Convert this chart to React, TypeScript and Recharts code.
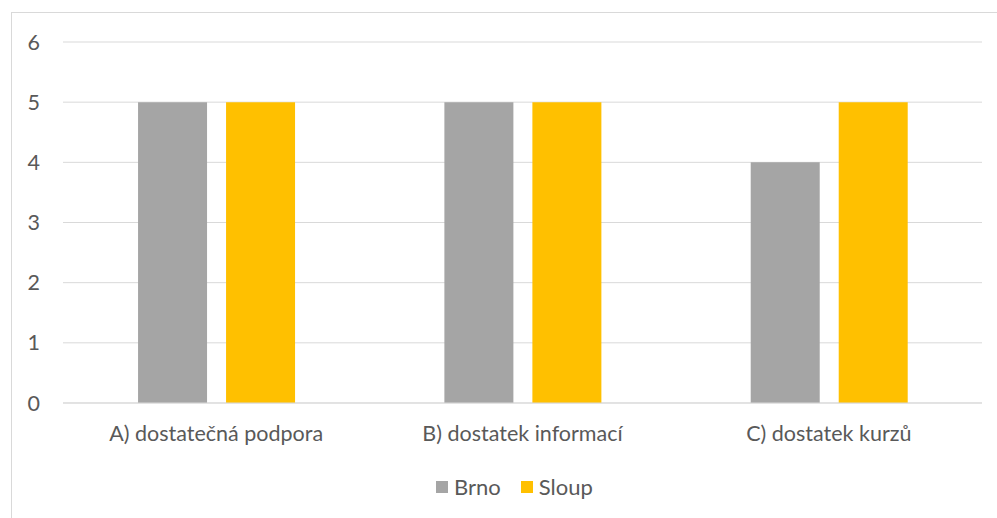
import React from 'react';
import { BarChart, Bar, XAxis, YAxis, CartesianGrid, Legend } from 'recharts';

const categories = ['A) dostatečná podpora', 'B) dostatek informací', 'C) dostatek kurzů'];
const brno = [5, 5, 4];
const sloup = [5, 5, 5];
const yTicks = [0, 1, 2, 3, 4, 5, 6];

const series = [
  { key: 'Brno', color: '#a5a5a5' },
  { key: 'Sloup', color: '#ffc000' },
];

const data = categories.map((name, i) => ({ name, Brno: brno[i], Sloup: sloup[i] }));

const font = 'Lato, "Open Sans", sans-serif';

const renderLegend = (props: any) => (
  <div style={{ display: 'flex', justifyContent: 'center', alignItems: 'center', gap: 20 }}>
    {(props.payload || []).map((p: any) => (
      <div key={p.value} style={{ display: 'flex', alignItems: 'center', gap: 6 }}>
        <span style={{ display: 'inline-block', width: 12, height: 12, background: p.color }} />
        <span style={{ color: '#595959', fontSize: 22, fontFamily: font }}>{p.value}</span>
      </div>
    ))}
  </div>
);

export default function App() {
  return (
    <div style={{ position: 'absolute', left: 0, top: 0, width: 997, height: 518, background: '#fff', overflow: 'hidden', fontFamily: font }}>
      <div style={{ position: 'absolute', left: 11, top: 12, width: 1000, height: 520, border: '1px solid #d9d9d9' }} />
      <div style={{ position: 'absolute', left: 0, top: 0 }}>
        <BarChart
          width={997}
          height={518}
          data={data}
          margin={{ top: 42, right: 15, left: 0, bottom: 57 }}
          barGap={19}
          barCategoryGap="24.5%"
        >
          <CartesianGrid vertical={false} stroke="#d9d9d9" strokeWidth={1} />
          <XAxis
            dataKey="name"
            height={30}
            axisLine={{ stroke: '#d9d9d9' }}
            tickLine={false}
            tickMargin={17}
            tick={{ fill: '#595959', fontSize: 21.5, fontFamily: font }}
          />
          <YAxis
            width={63}
            domain={[0, 6]}
            ticks={yTicks}
            axisLine={false}
            tickLine={false}
            tickMargin={17}
            tick={{ fill: '#595959', fontSize: 21.5, fontFamily: font }}
          />
          <Legend
            content={renderLegend}
            wrapperStyle={{ position: 'absolute', top: 473, left: 16, width: 997, lineHeight: '28px' }}
          />
          {series.map((s) => (
            <Bar key={s.key} dataKey={s.key} fill={s.color} isAnimationActive={false} />
          ))}
        </BarChart>
      </div>
    </div>
  );
}
